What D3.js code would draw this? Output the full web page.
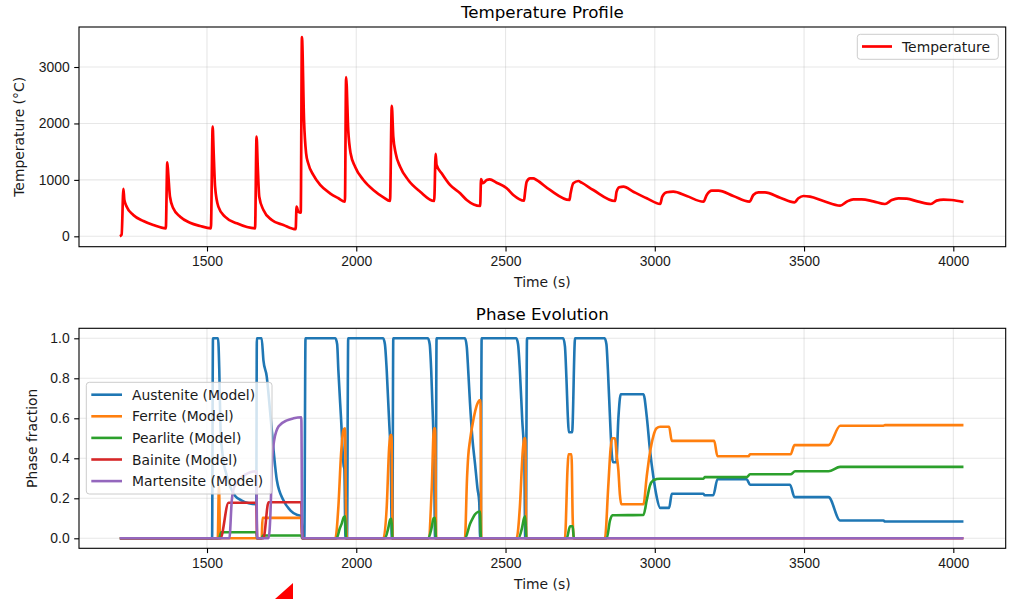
<!DOCTYPE html>
<html>
<head>
<meta charset="utf-8">
<script src="https://cdn.jsdelivr.net/npm/d3@7"></script>
<style>
  body { margin: 0; background: #fff; }
  svg { font-family: "DejaVu Sans", sans-serif; }
  .tick text { font-size: 13.9px; fill: #1a1a1a; }
  .tick line { stroke: #000; stroke-width: 1.1; }
  .domain { display: none; }
</style>
</head>
<body>
<div id="chart"></div>
<script>
// temperature profile, [time s, temperature C]
var temperature = [
  [1208,0],[1214,30],[1220,839],[1223,650],[1231,525],[1253,378],[1287,271],[1320,200],[1362,142],
  [1367,1312],[1370,1117],[1376,702],[1387,496],[1410,348],[1443,241],[1477,183],[1513,142],
  [1519,1943],[1522,1530],[1527,880],[1538,525],[1560,348],[1600,230],[1661,142],
  [1666,1766],[1670,1234],[1675,702],[1689,466],[1717,289],[1756,200],[1797,125],
  [1800,525],[1806,436],[1814,419],[1818,3530],[1825,2062],[1832,1471],[1839,1294],[1856,1087],
  [1879,910],[1912,762],[1940,674],[1962,614],
  [1966,2820],[1973,1885],[1981,1471],[1996,1234],[2024,998],[2057,821],[2091,691],[2113,626],
  [2119,2310],[2124,1766],[2132,1471],[2147,1234],[2174,998],[2214,791],[2261,626],
  [2266,1460],[2269,1264],[2286,1117],[2314,910],[2348,762],[2370,644],[2415,537],
  [2418,1016],[2424,940],[2437,998],[2447,1010],[2470,950],[2504,851],[2526,732],[2562,631],
  [2565,762],[2571,968],[2582,1028],[2593,1028],[2604,998],[2649,821],[2714,644],
  [2718,762],[2727,940],[2744,980],[2755,951],[2794,821],[2867,626],
  [2872,791],[2881,869],[2895,880],[2928,791],[2973,674],[3018,573],
  [3025,702],[3040,780],[3062,791],[3107,714],[3163,614],
  [3174,732],[3191,809],[3213,809],[3263,714],[3317,614],
  [3330,732],[3347,780],[3369,780],[3420,685],[3468,603],
  [3481,674],[3498,714],[3520,703],[3565,626],[3621,543],
  [3643,614],[3665,656],[3693,656],[3732,620],[3771,573],
  [3794,644],[3816,674],[3844,668],[3883,614],[3925,573],
  [3944,632],[3967,650],[3995,644],[4034,608]
];

// phase fractions, [time s, fraction]
var austenite = [
  [1208,0],[1517,0],[1520,1],[1537,1],[1541,0.85],[1545,0.56],[1552,0.42],[1565,0.32],[1580,0.25],
  [1595,0.21],[1615,0.19],[1640,0.175],[1665,0.17],[1667,1],[1683,1],[1689,0.89],[1700,0.81],
  [1711,0.64],[1723,0.44],[1734,0.29],[1756,0.19],[1779,0.14],[1800,0.118],[1816,0.11],[1820,0],
  [1826,0],[1830,1],[1930,1],[1936,0.97],[1940,0.84],[1949,0.6],[1958,0.36],[1960,0.35],[1964,0],
  [1969,0],[1973,1],[2090,1],[2096,0.97],[2102,0.84],[2110,0.59],[2116,0.36],[2119,0],[2121,0],
  [2124,1],[2240,1],[2246,0.97],[2251,0.84],[2257,0.59],[2261,0.36],[2264,0],[2266,0],[2269,1],
  [2364,1],[2370,0.96],[2375,0.84],[2381,0.675],[2389,0.5],[2398,0.37],[2406,0.25],[2412,0.18],
  [2415,0],[2417,0],[2420,1],[2536,1],[2542,0.97],[2548,0.84],[2556,0.59],[2563,0.39],[2566,0],
  [2568,0],[2572,1],[2693,1],[2699,0.96],[2704,0.8],[2709,0.6],[2712,0.53],[2723,0.53],[2733,1],
  [2832,1],[2838,0.97],[2843,0.84],[2850,0.6],[2856,0.42],[2860,0.38],[2871,0.38],[2878,0.6],
  [2886,0.72],[2962,0.72],[2973,0.61],[2984,0.44],[2995,0.31],[3006,0.21],[3018,0.152],
  [3048,0.152],[3057,0.223],[3163,0.223],[3167,0.215],[3196,0.215],[3210,0.295],[3308,0.295],
  [3319,0.268],[3453,0.268],[3468,0.206],[3582,0.206],[3621,0.089],[3766,0.089],[3771,0.084],
  [4034,0.084]
];
var ferrite = [
  [1208,0],[1536,0],[1540,0.27],[1544,0],[1683,0],[1686,0.102],[1816,0.102],[1819,0],
  [1930,0],[1940,0.156],[1949,0.42],[1957,0.54],[1962,0.55],[1966,0.1],[1969,0],
  [2091,0],[2102,0.156],[2110,0.45],[2114,0.516],[2118,0.516],[2122,0],
  [2241,0],[2253,0.256],[2260,0.55],[2264,0.55],[2268,0],
  [2364,0],[2371,0.3],[2375,0.41],[2381,0.49],[2392,0.59],[2405,0.67],[2413,0.69],[2416,0.69],[2419,0],
  [2537,0],[2548,0.156],[2557,0.42],[2562,0.5],[2566,0.5],[2570,0],
  [2699,0],[2708,0.357],[2711,0.42],[2721,0.42],[2725,0.1],[2729,0],
  [2833,0],[2844,0.256],[2852,0.45],[2857,0.5],[2867,0.5],[2872,0.42],[2878,0.34],[2883,0.22],
  [2888,0.17],[2962,0.17],[2973,0.31],[2984,0.43],[2995,0.51],[3006,0.55],[3018,0.558],
  [3048,0.558],[3057,0.487],[3199,0.487],[3210,0.41],[3314,0.41],[3319,0.42],[3455,0.42],
  [3468,0.466],[3582,0.466],[3621,0.563],[3766,0.563],[3771,0.566],[4034,0.566]
];
var pearlite = [
  [1208,0],[1540,0],[1548,0.03],[1665,0.03],[1668,0],[1683,0],[1688,0.014],[1816,0.014],[1819,0],
  [1934,0],[1945,0.05],[1951,0.072],[1958,0.105],[1963,0.11],[1966,0],
  [2096,0],[2107,0.05],[2114,0.095],[2118,0.097],[2121,0],
  [2241,0],[2252,0.05],[2259,0.1],[2264,0.103],[2267,0],
  [2364,0],[2381,0.072],[2390,0.1],[2398,0.12],[2408,0.132],[2414,0.134],[2418,0],
  [2543,0],[2555,0.05],[2562,0.1],[2566,0.11],[2570,0],
  [2705,0],[2716,0.06],[2725,0.06],[2729,0],
  [2839,0],[2850,0.089],[2858,0.115],[2962,0.117],[2973,0.19],[2984,0.265],[2995,0.29],
  [3006,0.296],[3018,0.298],[3163,0.298],[3168,0.306],[3308,0.306],[3319,0.32],[3455,0.32],
  [3470,0.335],[3582,0.335],[3621,0.357],[4034,0.357]
];
var bainite = [
  [1208,0],[1545,0],[1572,0.178],[1665,0.178],[1668,0],[1689,0],[1706,0.18],[1816,0.18],[1819,0],[4034,0]
];
var martensite = [
  [1208,0],[1575,0],[1583,0.19],[1588,0.24],[1600,0.28],[1611,0.3],[1630,0.32],[1645,0.33],
  [1665,0.335],[1668,0],[1706,0],[1714,0.19],[1717,0.357],[1725,0.49],[1740,0.56],[1768,0.59],
  [1790,0.6],[1816,0.605],[1819,0],[4034,0]
];

var phaseNames = ["Austenite (Model)", "Ferrite (Model)", "Pearlite (Model)", "Bainite (Model)", "Martensite (Model)"];
var phaseSeries = [austenite, ferrite, pearlite, bainite, martensite];
var phaseColors = ["#1f77b4", "#ff7f0e", "#2ca02c", "#d62728", "#9467bd"];

var tempTicks = [0, 1000, 2000, 3000];
var phaseTicks = [0, 0.2, 0.4, 0.6, 0.8, 1.0];
var timeTicks = [1500, 2000, 2500, 3000, 3500, 4000];

var width = 1012, height = 599;
var svg = d3.select("#chart").append("svg").attr("width", width).attr("height", height);

var left = 79, right = 1005.7;
var tempPanel = {top: 27, bottom: 246.7};
var phasePanel = {top: 328.3, bottom: 548.3};

var xScale = d3.scaleLinear().domain([1071.2, 4175.5]).range([left, right]);
var yTemp = d3.scaleLinear().domain([-184, 3709]).range([tempPanel.bottom, tempPanel.top]);
var yPhase = d3.scaleLinear().domain([-0.05, 1.05]).range([phasePanel.bottom, phasePanel.top]);

function drawPanel(panel, yScale, yTicks, yFormat, title, yLabel, ylabelX, titleY) {
    var g = svg.append("g");
    // grid
    g.append("g").selectAll("line").data(timeTicks).enter().append("line")
        .attr("x1", function(d) { return xScale(d); }).attr("x2", function(d) { return xScale(d); })
        .attr("y1", panel.top).attr("y2", panel.bottom)
        .attr("stroke", "#b0b0b0").attr("stroke-opacity", 0.3).attr("stroke-width", 1.1);
    g.append("g").selectAll("line").data(yTicks).enter().append("line")
        .attr("x1", left).attr("x2", right)
        .attr("y1", function(d) { return yScale(d); }).attr("y2", function(d) { return yScale(d); })
        .attr("stroke", "#b0b0b0").attr("stroke-opacity", 0.3).attr("stroke-width", 1.1);

    g.append("g").attr("transform", "translate(0," + panel.bottom + ")")
        .call(d3.axisBottom(xScale).tickValues(timeTicks).tickSize(4.8).tickPadding(5).tickFormat(d3.format("d")));
    g.append("g").attr("transform", "translate(" + left + ",0)")
        .call(d3.axisLeft(yScale).tickValues(yTicks).tickSize(4.8).tickPadding(4.6).tickFormat(yFormat));

    g.append("text").attr("x", (left + right) / 2).attr("y", titleY)
        .attr("text-anchor", "middle").attr("font-size", "16.7px").attr("fill", "#000").text(title);
    g.append("text").attr("x", (left + right) / 2).attr("y", panel.bottom + 40.5)
        .attr("text-anchor", "middle").attr("font-size", "13.9px").attr("fill", "#1a1a1a").text("Time (s)");
    g.append("text")
        .attr("transform", "translate(" + ylabelX + "," + ((panel.top + panel.bottom) / 2) + ") rotate(-90)")
        .attr("text-anchor", "middle").attr("font-size", "13.9px").attr("fill", "#1a1a1a").text(yLabel);
    return g;
}

drawPanel(tempPanel, yTemp, tempTicks, d3.format("d"), "Temperature Profile", "Temperature (\u00b0C)", 23.5, 17.5);
drawPanel(phasePanel, yPhase, phaseTicks, d3.format(".1f"), "Phase Evolution", "Phase fraction", 37, 319.5);

// temperature line
var tempLine = d3.line()
    .x(function(d) { return xScale(d[0]); })
    .y(function(d) { return yTemp(d[1]); })
    .curve(d3.curveMonotoneX);
svg.append("path").datum(temperature)
    .attr("d", tempLine).attr("fill", "none")
    .attr("stroke", "#ff0000").attr("stroke-width", 2.7).attr("stroke-linejoin", "round");

// phase lines
var phaseLine = d3.line()
    .x(function(d) { return xScale(d[0]); })
    .y(function(d) { return yPhase(d[1]); })
    .curve(d3.curveMonotoneX);
svg.append("g").selectAll("path").data(phaseSeries).enter().append("path")
    .attr("d", phaseLine).attr("fill", "none")
    .attr("stroke", function(d, i) { return phaseColors[i]; })
    .attr("stroke-width", 2.6).attr("stroke-linejoin", "round");

// spines
[tempPanel, phasePanel].forEach(function(p) {
    svg.append("rect").attr("x", left).attr("y", p.top)
        .attr("width", right - left).attr("height", p.bottom - p.top)
        .attr("fill", "none").attr("stroke", "#000").attr("stroke-width", 1.1);
});

// legends
var tLegend = svg.append("g");
tLegend.append("rect").attr("x", 857.3).attr("y", 34.3).attr("width", 141).attr("height", 25)
    .attr("rx", 3).attr("fill", "#fff").attr("fill-opacity", 0.8).attr("stroke", "#cccccc").attr("stroke-width", 1);
tLegend.append("line").attr("x1", 862).attr("x2", 892).attr("y1", 46.5).attr("y2", 46.5)
    .attr("stroke", "#ff0000").attr("stroke-width", 2.7);
tLegend.append("text").attr("x", 902).attr("y", 51.5).attr("font-size", "13.9px").attr("fill", "#1a1a1a").text("Temperature");

var pLegend = svg.append("g");
pLegend.append("rect").attr("x", 86.3).attr("y", 382.3).attr("width", 185.7).attr("height", 111.7)
    .attr("rx", 3).attr("fill", "#fff").attr("fill-opacity", 0.8).attr("stroke", "#cccccc").attr("stroke-width", 1);
var entries = pLegend.selectAll("g.entry").data(phaseNames).enter().append("g").attr("class", "entry")
    .attr("transform", function(d, i) { return "translate(0," + (394.7 + i * 21.6) + ")"; });
entries.append("line").attr("x1", 91.3).attr("x2", 122).attr("y1", 0).attr("y2", 0)
    .attr("stroke", function(d, i) { return phaseColors[i]; }).attr("stroke-width", 2.6);
entries.append("text").attr("x", 132).attr("y", 5).attr("font-size", "13.9px").attr("fill", "#1a1a1a")
    .text(function(d) { return d; });

// red corner mark peeking in at the bottom edge
svg.append("path").attr("d", "M275,599L293,583L293,599Z").attr("fill", "#ff0000");
</script>
</body>
</html>
